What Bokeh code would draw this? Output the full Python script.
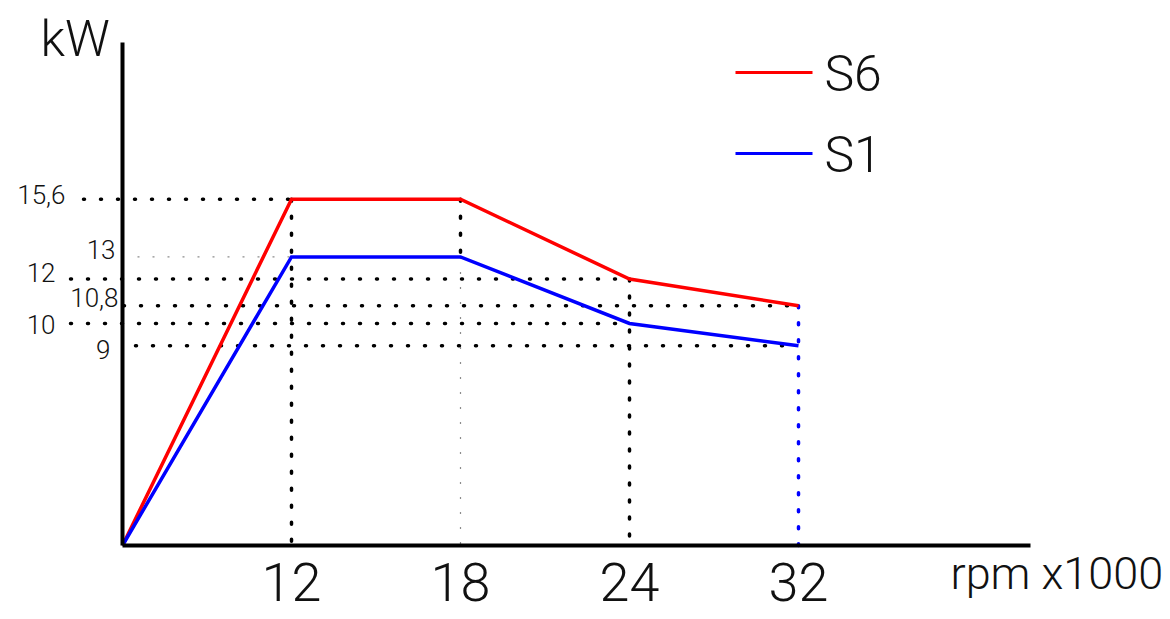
from bokeh.plotting import figure
from bokeh.models import Range1d, ColumnDataSource
from bokeh.core.properties import value
from bokeh.embed import file_html
from bokeh.resources import INLINE

# ---------------- data ----------------
rpm = [0, 12, 18, 24, 32]            # rpm x1000
s6 = [0, 15.6, 15.6, 12, 10.8]       # kW, S6 duty
s1 = [0, 13, 13, 10, 9]              # kW, S1 duty
series_names = ["S6", "S1"]
x_unit = "rpm x1000"
y_unit = "kW"

# ---------------- layout / style ----------------
W, H = 1170, 619
PAGE = 0
ORIGIN_X, ORIGIN_Y = 122, 545     # page pixel of the origin
KX = 169.0                        # px per rpm step (schematic, equal spacing)
KY = 22.2                         # px per kW
FONT = "Roboto Light, Roboto, sans-serif"
TXT = "#111111"
RED, BLUE = "#ff0000", "#0000ff"
BASE_FIX = 0.38                   # measured baseline correction (em)


def px_x(page_x):
    return (page_x - ORIGIN_X) / KX


def px_y(page_y):
    return (ORIGIN_Y - page_y) / KY


def yfix(size):
    return -BASE_FIX * size


xpos = list(range(len(rpm)))      # schematic, equally spaced positions


def fmt(v):
    return f"{v:g}".replace(".", ",")


p = figure(width=W, height=H,
           x_range=Range1d(px_x(PAGE), px_x(PAGE + W)),
           y_range=Range1d(px_y(PAGE + H), px_y(PAGE)),
           x_axis_location=None, y_axis_location=None,
           toolbar_location=None, output_backend="svg",
           min_border=0, outline_line_color=None)
p.grid.visible = False

STYLES = {
    "black": dict(line_color="#000000", line_width=3.5, line_dash="1 16", line_cap="round"),
    "vblack": dict(line_color="#000000", line_width=3.5, line_dash="2 15", line_cap="round"),
    "grey": dict(line_color="#8c8c8c", line_width=1.2, line_dash="2 13", line_cap="butt"),
    "vblue": dict(line_color=BLUE, line_width=3.5, line_dash="2 15", line_cap="round"),
}

# horizontal guide levels derived from the series
h_guides = []
for ser in (s6, s1):
    seen = set()
    for i in range(1, len(ser)):
        if ser[i] not in seen:
            seen.add(ser[i])
            h_guides.append((ser[i], i))

# label right-edge offset (px from y axis), baseline offset (px), guide start (page x), style
LEVEL_LAYOUT = {
    "15,6": (-57, 5, 83, "black"),
    "13": (-7, 2, 137, "grey"),
    "12": (-67, 3, 70, "black"),
    "10,8": (-4, 2, 123, "black"),
    "10": (-67, 11, 70, "black"),
    "9": (-12, 14, 135, "black"),
}
YL_SIZE = 26

lab_x, lab_y, lab_t, lab_xo, lab_yo = [], [], [], [], []
for v, i in h_guides:
    t = fmt(v)
    xo, yo, start, style = LEVEL_LAYOUT[t]
    p.segment(x0=[px_x(start)], y0=[v], x1=[xpos[i]], y1=[v], **STYLES[style])
    lab_x.append(0)
    lab_y.append(v)
    lab_t.append(t)
    lab_xo.append(xo)
    lab_yo.append(yo + yfix(YL_SIZE))

# vertical guides
v_guides = [
    (1, s6[1], 0, "vblack"),
    (2, s6[2], s1[2], "vblack"),
    (2, s1[2], 0, "grey"),
    (3, s6[3], 0, "vblack"),
    (4, s6[4], 0, "vblue"),
]
for i, ytop, ybot, style in v_guides:
    p.segment(x0=[xpos[i]], y0=[ytop], x1=[xpos[i]], y1=[ybot], **STYLES[style])

# series
p.line(xpos, s6, line_color=RED, line_width=3.5, line_join="miter")
p.line(xpos, s1, line_color=BLUE, line_width=3.5, line_join="miter")

# axes lines
p.segment(x0=[0], y0=[0], x1=[0], y1=[px_y(42)], line_color="#000000", line_width=4)
p.segment(x0=[0], y0=[0], x1=[px_x(1030)], y1=[0], line_color="#000000", line_width=4)

# y level labels
src = ColumnDataSource(dict(x=lab_x, y=lab_y, t=lab_t, xo=lab_xo, yo=lab_yo))
p.text(x="x", y="y", text="t", x_offset="xo", y_offset="yo", source=src,
       text_font=value(FONT), text_font_size=value(f"{YL_SIZE}px"), text_color=TXT,
       text_align="right", text_baseline="alphabetic")

# x tick labels
XT_SIZE = 54
xt = ColumnDataSource(dict(x=xpos[1:], y=[0] * (len(rpm) - 1), t=[str(r) for r in rpm[1:]]))
p.text(x="x", y="y", text="t", source=xt, y_offset=57 + yfix(XT_SIZE),
       text_font=value(FONT), text_font_size=value(f"{XT_SIZE}px"), text_color=TXT,
       text_align="center", text_baseline="alphabetic")

# unit labels
KW_SIZE = 50
p.text(x=[px_x(40)], y=[px_y(57)], text=[y_unit], text_font=value(FONT),
       y_offset=yfix(KW_SIZE),
       text_font_size=value(f"{KW_SIZE}px"), text_color=TXT, text_align="left",
       text_baseline="alphabetic")
RPM_SIZE = 45
p.text(x=[px_x(950)], y=[px_y(590)], text=[x_unit], text_font=value(FONT),
       y_offset=yfix(RPM_SIZE),
       text_font_size=value(f"{RPM_SIZE}px"), text_color=TXT, text_align="left",
       text_baseline="alphabetic")

# legend (drawn)
LG_SIZE = 50
for k, (name, color) in enumerate(zip(series_names, [RED, BLUE])):
    ly = 72 + 81 * k
    p.segment(x0=[px_x(735)], y0=[px_y(ly)], x1=[px_x(812)], y1=[px_y(ly)],
              line_color=color, line_width=3)
    p.text(x=[px_x(824)], y=[px_y(ly + 20)], text=[name], text_font=value(FONT),
           y_offset=yfix(LG_SIZE),
           text_font_size=value(f"{LG_SIZE}px"), text_color=TXT, text_align="left",
           text_baseline="alphabetic")

open("out.html", "w").write(file_html(p, INLINE))
